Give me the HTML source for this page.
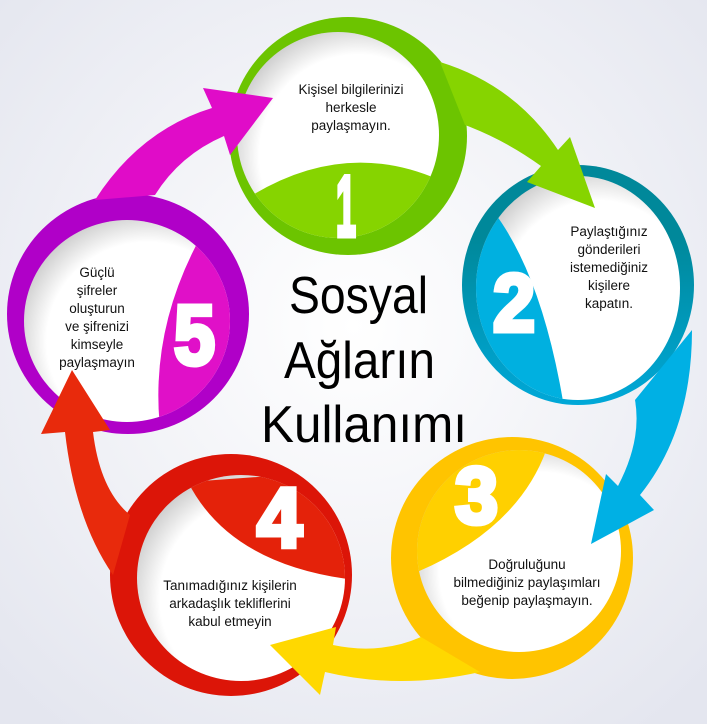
<!DOCTYPE html>
<html><head><meta charset="utf-8"><style>
html,body{margin:0;padding:0;width:707px;height:724px;overflow:hidden}
svg{display:block}
.t{font-family:"Liberation Sans Narrow","Liberation Sans",sans-serif;font-size:13.5px;fill:#111;text-anchor:middle}
.d{font-family:"Liberation Sans",sans-serif;font-weight:bold;fill:#fff;stroke:#fff;stroke-width:5;stroke-linejoin:miter}
.h{font-family:"Liberation Sans",sans-serif;font-size:52px;fill:#000}
</style></head><body>
<svg width="707" height="724" viewBox="0 0 707 724" xmlns="http://www.w3.org/2000/svg">
<defs>
<radialGradient id="bg" cx="0.5" cy="0.45" r="0.7"><stop offset="0" stop-color="#ffffff"/><stop offset="1" stop-color="#e4e6ef"/></radialGradient>
<radialGradient id="inn" cx="0.6" cy="0.6" r="0.7"><stop offset="0.7" stop-color="#fff"/><stop offset="1" stop-color="#bdbdbd"/></radialGradient>
<linearGradient id="g2" x1="0" y1="0" x2="0" y2="1"><stop offset="0.3" stop-color="#00889a"/><stop offset="1" stop-color="#00a8d8"/></linearGradient>
<clipPath id="c1"><ellipse cx="338" cy="135" rx="101" ry="103"/></clipPath>
<clipPath id="c2"><ellipse cx="578" cy="288" rx="102" ry="112"/></clipPath>
<clipPath id="c3"><ellipse cx="519" cy="551" rx="102" ry="101"/></clipPath>
<clipPath id="c4"><ellipse cx="241" cy="578" rx="104" ry="103"/></clipPath>
<clipPath id="c5"><ellipse cx="127" cy="321" rx="103" ry="101"/></clipPath>
</defs>
<rect width="707" height="724" fill="url(#bg)"/>

<ellipse cx="348" cy="136" rx="119" ry="119" fill="#6cc400"/>
<ellipse cx="338" cy="135" rx="101" ry="103" fill="url(#inn)"/>
<path clip-path="url(#c1)" d="M230,210 Q340,130 450,185 L450,260 L230,260 Z" fill="#86d400"/>

<ellipse cx="578" cy="285" rx="116" ry="120" fill="url(#g2)"/>
<ellipse cx="578" cy="288" rx="102" ry="112" fill="url(#inn)"/>
<path clip-path="url(#c2)" d="M494,212 Q545,280 566,420 L460,420 L460,200 Z" fill="#00b0e0"/>

<ellipse cx="512" cy="558" rx="121" ry="121" fill="#ffc400"/>
<ellipse cx="519" cy="551" rx="102" ry="101" fill="url(#inn)"/>
<path clip-path="url(#c3)" d="M548,445 Q520,530 410,575 L400,440 Z" fill="#ffd000"/>

<ellipse cx="231" cy="575" rx="121" ry="121" fill="#dc1508"/>
<ellipse cx="241" cy="578" rx="104" ry="103" fill="url(#inn)"/>
<path clip-path="url(#c4)" d="M188,482 Q230,565 355,580 L355,470 Z" fill="#e4220a"/>

<ellipse cx="128" cy="314" rx="121" ry="120" fill="#b000c8"/>
<ellipse cx="127" cy="321" rx="103" ry="101" fill="url(#inn)"/>
<path clip-path="url(#c5)" d="M200,238 Q150,330 160,428 L240,428 L240,238 Z" fill="#e010c8"/>

<path d="M440,62 Q515,85 558,150 L570,137 L595,208 L527,182 L541,166 Q505,140 465,125 Z" fill="#86d400"/>
<path d="M692,330 Q692,430 640,495 L654,510 L591,544 L606,474 L618,486 Q642,440 635,400 Z" fill="#00b0e4"/>
<path d="M421,637 Q380,655 333,645 L336,627 L270,645 L320,695 L325,672 Q400,690 480,672 Z" fill="#ffd800"/>
<path d="M113,575 Q75,520 65,432 L41,434 L72,370 L110,430 L93,432 Q100,490 130,515 Z" fill="#e82a0c"/>
<path d="M95,200 Q140,130 212,108 L203,88 L273,98 L230,155 L224,136 Q180,155 155,195 Z" fill="#e00cc8"/>

<text class="d" x="336" y="236" font-size="86" textLength="20" lengthAdjust="spacingAndGlyphs">1</text>
<text class="d" x="493" y="331" font-size="82" textLength="42" lengthAdjust="spacingAndGlyphs">2</text>
<text class="d" x="455" y="523" font-size="80" textLength="43" lengthAdjust="spacingAndGlyphs">3</text>
<text class="d" x="257" y="547" font-size="84" textLength="45" lengthAdjust="spacingAndGlyphs">4</text>
<text class="d" x="174" y="364" font-size="84" textLength="41" lengthAdjust="spacingAndGlyphs">5</text>

<text class="t" x="351" y="94">Kişisel bilgilerinizi</text>
<text class="t" x="351" y="112">herkesle</text>
<text class="t" x="351" y="130">paylaşmayın.</text>

<text class="t" x="609" y="236">Paylaştığınız</text>
<text class="t" x="609" y="254">gönderileri</text>
<text class="t" x="609" y="272">istemediğiniz</text>
<text class="t" x="609" y="290">kişilere</text>
<text class="t" x="609" y="308">kapatın.</text>

<text class="t" x="527" y="569">Doğruluğunu</text>
<text class="t" x="527" y="587">bilmediğiniz paylaşımları</text>
<text class="t" x="527" y="605">beğenip paylaşmayın.</text>

<text class="t" x="230" y="590">Tanımadığınız kişilerin</text>
<text class="t" x="230" y="608">arkadaşlık tekliflerini</text>
<text class="t" x="230" y="626">kabul etmeyin</text>

<text class="t" x="97" y="277">Güçlü</text>
<text class="t" x="97" y="295">şifreler</text>
<text class="t" x="97" y="313">oluşturun</text>
<text class="t" x="97" y="331">ve şifrenizi</text>
<text class="t" x="97" y="349">kimseyle</text>
<text class="t" x="97" y="367">paylaşmayın</text>

<text class="h" x="289" y="313" textLength="139" lengthAdjust="spacingAndGlyphs">Sosyal</text>
<text class="h" x="284" y="378" textLength="151" lengthAdjust="spacingAndGlyphs">Ağların</text>
<text class="h" x="261" y="442" textLength="206" lengthAdjust="spacingAndGlyphs">Kullanımı</text>
</svg>
</body></html>
